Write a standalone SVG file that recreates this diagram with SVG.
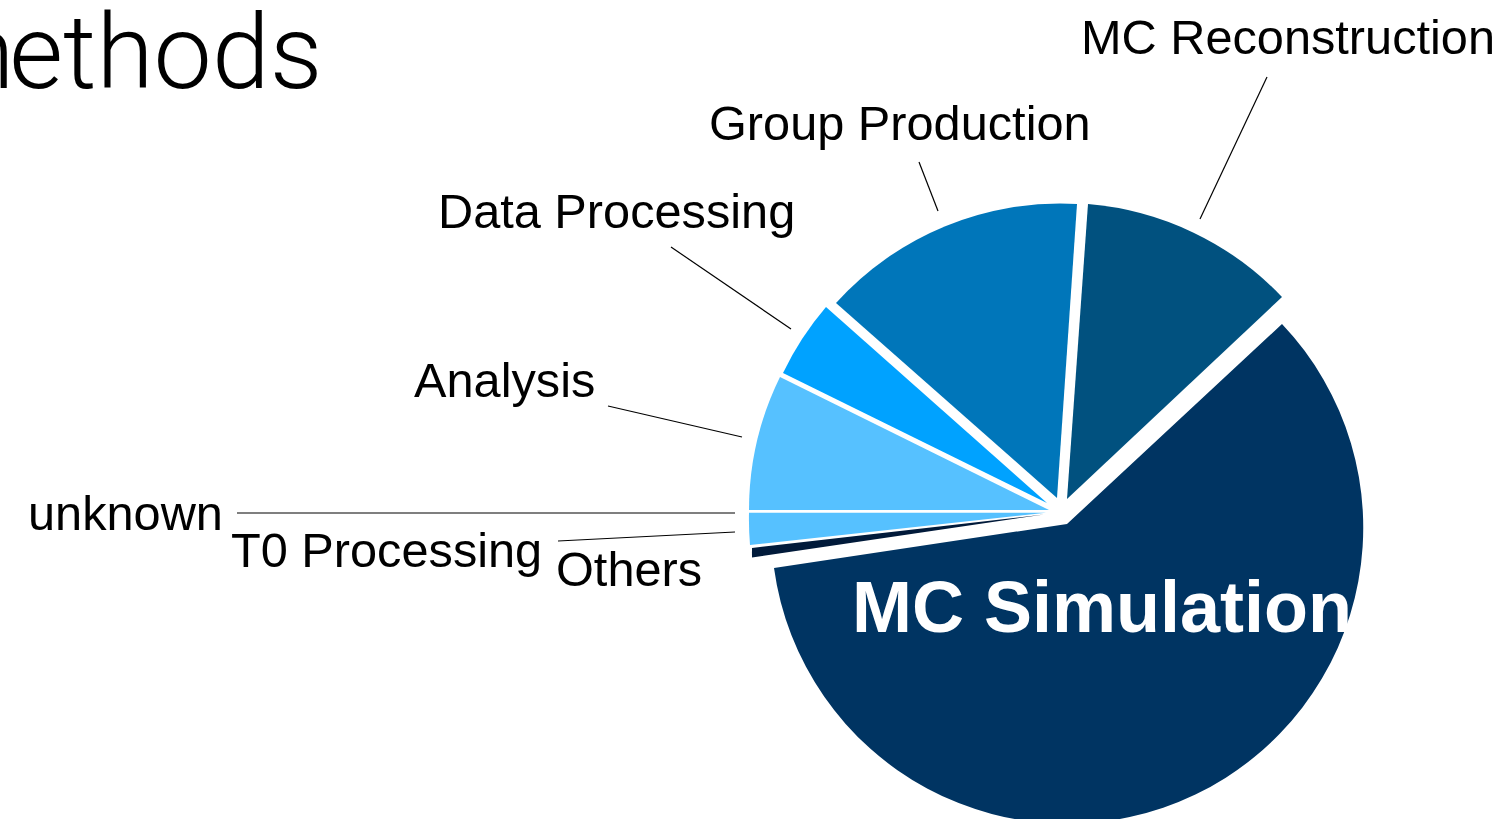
<svg xmlns="http://www.w3.org/2000/svg" width="1502" height="819" viewBox="0 0 1502 819">
  <style>
    .lbl { font-family: "Liberation Sans", Arial, sans-serif; font-size: 48.7px; fill: #000; }
    .title { font-family: Roboto, Inter, "Liberation Sans", sans-serif; font-weight: 300; font-size: 104px; fill: #000; }
    .big { font-family: "Liberation Sans", Arial, sans-serif; font-weight: bold; font-size: 72px; fill: #fff; }
    .lead { stroke: #000; stroke-width: 1.2; fill: none; }
  </style>
  <rect width="1502" height="819" fill="#fff"/>
  <text class="title" x="-78" y="88">m<tspan dx="-5">ethods</tspan></text>

  <g id="slice-mc-simulation">
    <path d="M1067,524 L1282,324 A296,296 0 1 1 774,568 Z" fill="#003462"/>
    <text class="big" x="852" y="632">MC Simulation</text>
  </g>
  <g id="slice-mc-reconstruction">
    <path d="M1067,499 L1088,204 A302,302 0 0 1 1282,297 Z" fill="#01517F"/>
    <text class="lbl" x="1081" y="54">MC Reconstruction</text>
  </g>
  <g id="slice-group-production">
    <path d="M1057,498 L836,303 A302,302 0 0 1 1077,204 Z" fill="#0076BA"/>
    <text class="lbl" x="709" y="140">Group Production</text>
  </g>
  <g id="slice-data-processing">
    <path d="M1047,503 L783,373 A302,302 0 0 1 826,307 Z" fill="#00A2FF"/>
    <text class="lbl" x="438" y="228">Data Processing</text>
  </g>
  <g id="slice-analysis">
    <path d="M1049,510 L749,510 A302,302 0 0 1 780,377 Z" fill="#56C1FF"/>
    <text class="lbl" x="414" y="397">Analysis</text>
  </g>
  <g id="slice-unknown">
    <text class="lbl" x="28" y="530">unknown</text>
  </g>
  <g id="slice-t0-processing">
    <path d="M1046,512.7 L750,545 A302,302 0 0 1 749,512.7 Z" fill="#56C1FF"/>
    <text class="lbl" x="231" y="567">T0 Processing</text>
  </g>
  <g id="slice-others">
    <path d="M1044,514.5 L752,557.5 A302,302 0 0 1 752,548 Z" fill="#011A3A"/>
    <text class="lbl" x="556" y="586">Others</text>
  </g>

  <g id="connectors">
    <line class="lead" x1="1267" y1="77" x2="1200" y2="219"/>
    <line class="lead" x1="919" y1="162" x2="938" y2="211"/>
    <line class="lead" x1="671" y1="247" x2="791" y2="329"/>
    <line class="lead" x1="608" y1="406" x2="742" y2="437"/>
    <line class="lead" x1="237" y1="513" x2="735" y2="513"/>
    <line class="lead" x1="558" y1="541" x2="735" y2="532"/>
  </g>
</svg>
